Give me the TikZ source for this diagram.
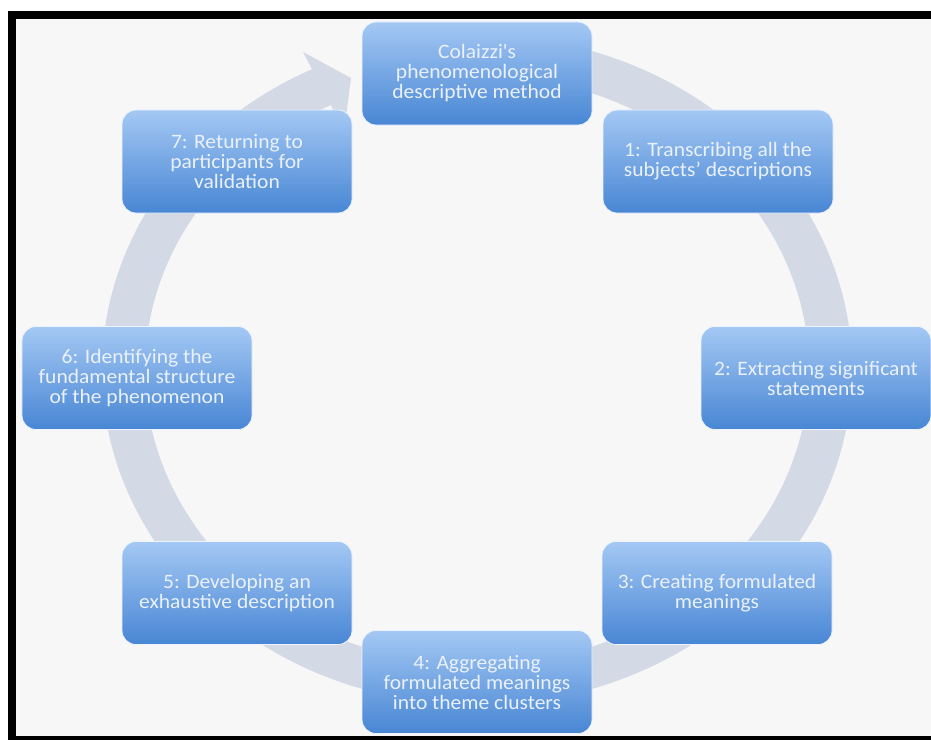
\documentclass[tikz,border=0pt]{standalone}
\usepackage{fontspec}
\setmainfont{Carlito}[FakeStretch=1.05]
\usetikzlibrary{calc}
\definecolor{bgc}{RGB}{247,247,247}
\definecolor{ringc}{RGB}{211,217,229}
\definecolor{boxtop}{RGB}{164,200,244}
\definecolor{boxbot}{RGB}{72,134,212}
\definecolor{txtc}{RGB}{234,241,250}
\begin{document}
\begin{tikzpicture}[x=1bp,y=-1bp,
  stepbox/.style={rectangle, rounded corners=14bp, minimum width=230bp,
    minimum height=103bp, inner sep=0pt, top color=boxtop, bottom color=boxbot,
    draw=white!80!boxtop, line width=0.8bp, text=txtc, align=center,
    font=\fontsize{20.5bp}{20bp}\selectfont}]
\useasboundingbox (0,0) rectangle (931,740);
\fill[white] (0,0) rectangle (931,740);
\fill[bgc] (16,19) rectangle (931,736);
\fill[black] (8,11) rectangle (931,19);
\fill[black] (8,11) rectangle (16,740);
\fill[black] (8,736) rectangle (931,740);
\coordinate (c) at (477,370);
\coordinate (ob) at (303,52);
\coordinate (tip) at (351,78);
\coordinate (ib) at (344,132);
\fill[ringc] ($(c)+(-80:375 and 335)$)
  arc[start angle=-80,end angle=243.9,x radius=375,y radius=335]
  -- (ob) -- (tip) -- (ib) -- ($(c)+(243.9:332 and 295)$)
  arc[start angle=243.9,end angle=-80,x radius=332,y radius=295] -- cycle;
\node[stepbox] (s0) at (477,73.5) {Colaizzi\textquotesingle s\\phenomenological\\descriptive method};
\node[stepbox] (s1) at (718,161.5) {1: Transcribing all the\\subjects’ descriptions};
\node[stepbox] (s2) at (816,378) {2: Extracting significant\\statements};
\node[stepbox] (s3) at (717,593) {3: Creating formulated\\meanings};
\node[stepbox] (s4) at (477,682) {4: Aggregating\\formulated meanings\\into theme clusters};
\node[stepbox] (s5) at (237,593) {5: Developing an\\exhaustive description};
\node[stepbox] (s6) at (137,378) {6: Identifying the\\fundamental structure\\of the phenomenon};
\node[stepbox] (s7) at (237,161.5) {7: Returning to\\participants for\\validation};
\end{tikzpicture}
\end{document}
